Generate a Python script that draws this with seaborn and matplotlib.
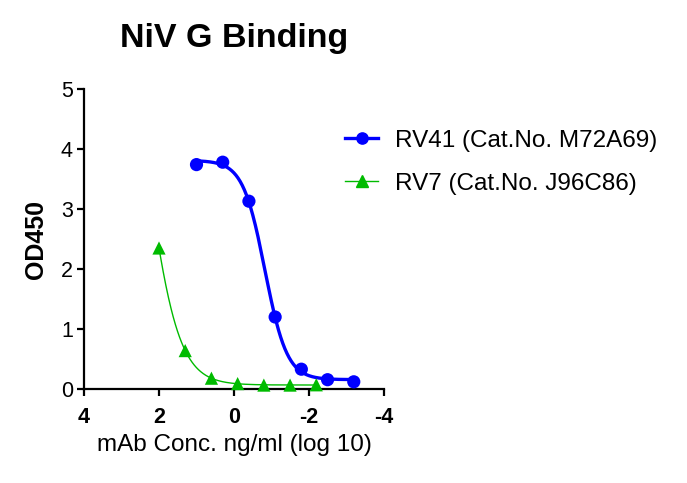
import numpy as np
import pandas as pd
import matplotlib
matplotlib.use("Agg")
import matplotlib.pyplot as plt
import seaborn as sns
from matplotlib.lines import Line2D

# log10 concentration (ng/ml) and OD450 readings
rv41_x = [1.0, 0.301, -0.398, -1.097, -1.796, -2.495, -3.194]
rv41_y = [3.74, 3.78, 3.13, 1.20, 0.33, 0.155, 0.12]
rv7_x = [2.0, 1.301, 0.602, -0.097, -0.796, -1.495, -2.194]
rv7_y = [2.35, 0.64, 0.18, 0.09, 0.065, 0.065, 0.07]

labels = ["RV41 (Cat.No. M72A69)", "RV7 (Cat.No. J96C86)"]
colors = ["#0000ff", "#00bb00"]


def fit_4pl(x, y):
    # grid search over logEC50 / hill, linear least squares for bottom / top
    x = np.asarray(x)
    y = np.asarray(y)
    best = None
    for c in np.linspace(-3, 5, 321):
        for h in np.linspace(0.3, 5, 189):
            s = 1.0 / (1.0 + 10 ** ((c - x) * h))
            A = np.column_stack([1 - s, s])
            coef, *_ = np.linalg.lstsq(A, y, rcond=None)
            err = np.sum((A @ coef - y) ** 2)
            if best is None or err < best[0]:
                best = (err, c, h, coef[0], coef[1])
    _, c, h, b, t = best
    return lambda xx: b + (t - b) / (1.0 + 10 ** ((c - xx) * h))


plt.rcParams['font.family'] = ['Liberation Sans', 'DejaVu Sans']
fig = plt.figure(figsize=(6.87, 4.83), dpi=100)
ax = fig.add_axes([84 / 687, 1 - 389 / 483, 300 / 687, 300 / 483])

series = [(rv41_x, rv41_y, "o", 2.4, 9.5), (rv7_x, rv7_y, "^", 1.0, 9.5)]
handles = []
for (xs, ys, mk, lw, ms), lab, col in zip(series, labels, colors):
    f = fit_4pl(xs, ys)
    xx = np.linspace(min(xs), max(xs), 300)
    curve = pd.DataFrame({"x": xx, "y": f(xx)})
    sns.lineplot(data=curve, x="x", y="y", ax=ax, color=col, lw=lw, sort=False)
    pts = pd.DataFrame({"x": xs, "y": ys})
    sns.scatterplot(data=pts, x="x", y="y", ax=ax, color=col, marker=mk,
                    s=ms ** 2, edgecolor="none", zorder=3, clip_on=False)
    handles.append(Line2D([], [], color=col, lw=lw, marker=mk, markersize=ms * 0.85))

ax.set_xlim(4, -4)
ax.set_ylim(0, 5)
ax.set_xticks([4, 2, 0, -2, -4])
ax.set_yticks([0, 1, 2, 3, 4, 5])
ax.set_xticklabels(["4", "2", "0", "-2", "-4"], fontweight="bold")
ax.tick_params(axis="both", direction="out", length=5, width=1.6, labelsize=15.5)
ax.tick_params(axis="x", pad=8)
ax.tick_params(axis="y", pad=3)
for side in ["top", "right"]:
    ax.spines[side].set_visible(False)
for side in ["left", "bottom"]:
    ax.spines[side].set_linewidth(1.6)

ax.set_xlabel("mAb Conc. ng/ml (log 10)", fontsize=17.5, labelpad=4)
ax.set_ylabel("OD450", fontsize=18, fontweight="bold", labelpad=9)
fig.text(234 / 687, 1 - 39 / 483, "NiV G Binding", fontsize=24.5, fontweight="bold",
         ha="center", va="center")

leg = ax.legend(handles, labels, loc="upper left", bbox_to_anchor=(0.87, 0.865),
                frameon=False, fontsize=17.5, handlelength=1.36, handletextpad=0.7,
                labelspacing=0.87, borderaxespad=0, borderpad=0)

fig.savefig("out.png", dpi=100)
